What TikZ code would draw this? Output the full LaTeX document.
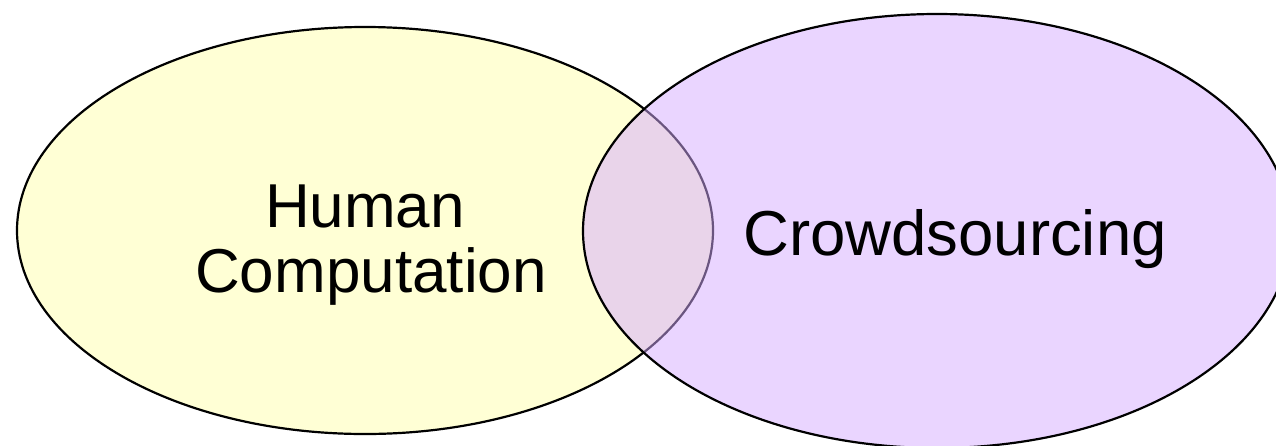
\documentclass[tikz,border=0pt]{standalone}
\usepackage{fontspec}
\setmainfont{Liberation Sans}
\begin{document}
\begin{tikzpicture}[x=1pt,y=-1pt,
  setborder/.style={draw=black,line width=2.2pt},
  label/.style={inner sep=0pt,anchor=base,font=\fontsize{62}{65}\selectfont}]
  \definecolor{hcyellow}{RGB}{255,255,213}
  \definecolor{cspurple}{RGB}{213,171,255}
  \useasboundingbox (0,0) rectangle (1276,445);
  \clip (0,0) rectangle (1276,445);
  % Human computation set
  \draw[setborder,fill=hcyellow] (365,230.5) ellipse [x radius=348,y radius=203.5];
  % Crowdsourcing set, translucent so the overlap shows through
  \draw[setborder,fill=cspurple,fill opacity=0.5] (937,231) ellipse [x radius=354,y radius=217];
  \node[label] (human) at (365,227) {Human};
  \node[label] (computation) at (371,292) {Computation};
  \node[label,font=\fontsize{63.5}{66}\selectfont] (crowd) at (955,255) {Crowdsourcing};
\end{tikzpicture}
\end{document}
